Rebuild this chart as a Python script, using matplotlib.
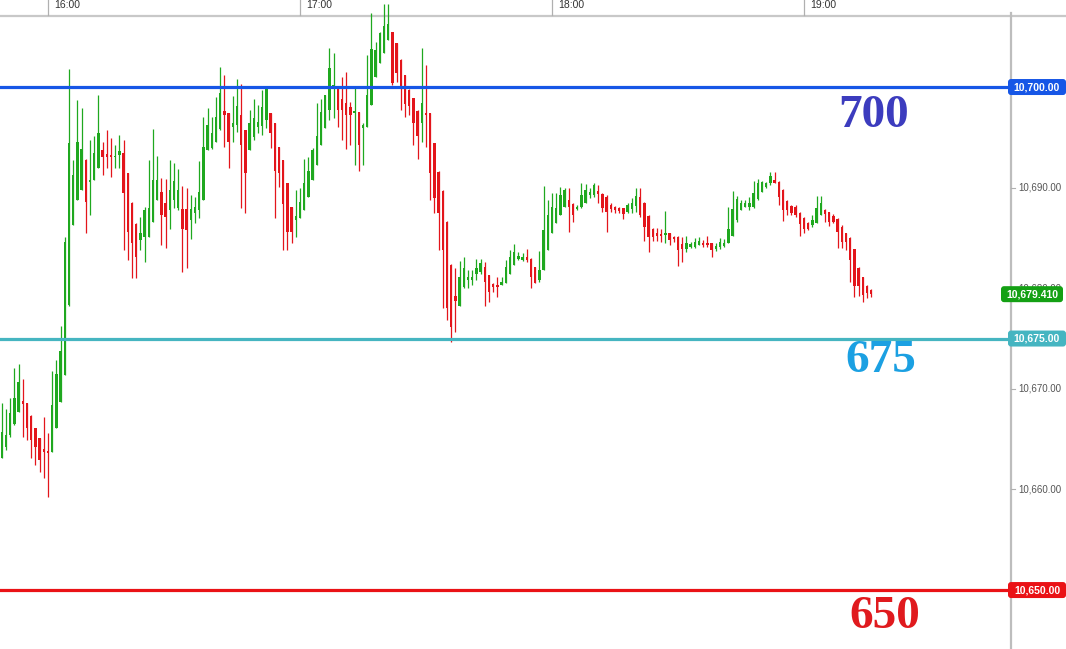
import numpy as np
import matplotlib
matplotlib.use("Agg")
import matplotlib.pyplot as plt
from matplotlib.lines import Line2D
from matplotlib.patches import FancyBboxPatch
from matplotlib.transforms import IdentityTransform

W, H = 1066, 649

# one-minute bars, first bar at 15:49 (minutes relative to 16:00)
FIRST_BAR = -11

OPEN = [
    10663.1, 10664.2, 10665.4, 10666.5, 10667.7, 10668.8, 10668.6, 10667.3, 10666.1, 10665.1,
    10664.0, 10663.8, 10663.7, 10666.1, 10668.7, 10671.4, 10678.3, 10686.3, 10688.8, 10689.8,
    10692.7, 10690.6, 10690.8, 10692.0, 10693.7, 10693.3, 10693.2, 10693.0, 10693.2, 10693.4,
    10691.5, 10688.5, 10686.4, 10684.8, 10685.1, 10685.1, 10686.6, 10688.8, 10689.6, 10688.5,
    10687.8, 10688.8, 10688.0, 10687.9, 10687.9, 10686.8, 10687.5, 10687.8, 10688.8, 10693.7,
    10693.9, 10694.5, 10695.8, 10697.6, 10697.4, 10696.0, 10696.2, 10697.2, 10695.7, 10693.7,
    10695.0, 10696.0, 10696.1, 10696.7, 10697.4, 10696.4, 10694.0, 10692.7, 10690.5, 10688.1,
    10686.8, 10687.0, 10687.8, 10689.1, 10690.8, 10692.2, 10694.2, 10695.9, 10697.7, 10699.8,
    10699.9, 10698.8, 10698.4, 10698.0, 10697.4, 10697.5, 10695.9, 10696.0, 10698.2, 10701.0,
    10702.4, 10703.4, 10704.7, 10705.5, 10704.4, 10702.7, 10701.2, 10699.7, 10698.9, 10697.6,
    10696.4, 10697.4, 10697.4, 10694.4, 10691.6, 10689.7, 10686.6, 10682.3, 10679.2, 10678.2,
    10680.1, 10680.8, 10680.8, 10681.4, 10681.6, 10682.1, 10681.3, 10680.4, 10680.3, 10680.3,
    10680.5, 10681.4, 10682.3, 10682.9, 10682.8, 10683.1, 10682.9, 10682.1, 10680.8, 10681.8,
    10683.8, 10685.5, 10686.5, 10687.3, 10688.1, 10688.8, 10688.4, 10687.9, 10688.1, 10688.5,
    10689.3, 10689.3, 10689.7, 10689.4, 10689.1, 10688.3, 10688.1, 10688.0, 10688.0, 10687.6,
    10687.9, 10688.2, 10689.1, 10688.5, 10687.2, 10685.9, 10685.5, 10685.4, 10685.3, 10685.5,
    10685.1, 10685.1, 10684.4, 10683.9, 10684.1, 10684.1, 10684.3, 10684.5, 10684.5, 10684.5,
    10683.9, 10684.1, 10684.2, 10684.5, 10685.2, 10686.8, 10687.8, 10688.1, 10688.1, 10688.1,
    10688.9, 10689.6, 10690.1, 10690.5, 10690.8, 10690.6, 10689.8, 10688.7, 10688.2, 10688.1,
    10687.5, 10687.0, 10686.5, 10686.3, 10686.5, 10687.3, 10687.8, 10687.6, 10687.2, 10686.9,
    10686.1, 10685.5, 10685.0, 10683.9, 10682.0, 10681.1, 10680.2, 10679.8,
]
HIGH = [
    10668.6, 10668.0, 10669.1, 10672.1, 10672.5, 10671.0, 10668.6, 10667.4, 10666.1, 10665.1,
    10667.2, 10665.6, 10671.8, 10672.9, 10676.2, 10685.1, 10701.8, 10692.7, 10698.7, 10697.9,
    10692.8, 10694.7, 10695.1, 10699.2, 10694.5, 10695.7, 10694.9, 10694.2, 10695.2, 10694.7,
    10691.5, 10688.6, 10686.5, 10687.1, 10688.1, 10692.7, 10695.8, 10693.1, 10691.0, 10690.9,
    10692.7, 10692.4, 10691.9, 10690.2, 10690.0, 10689.3, 10689.1, 10692.6, 10697.0, 10697.9,
    10697.0, 10699.0, 10702.0, 10701.2, 10697.4, 10699.1, 10700.8, 10700.3, 10695.7, 10697.7,
    10698.8, 10698.2, 10699.7, 10699.9, 10697.4, 10696.4, 10694.0, 10692.7, 10690.5, 10688.1,
    10689.8, 10690.0, 10692.8, 10693.0, 10693.9, 10698.4, 10698.8, 10699.2, 10703.9, 10703.4,
    10700.1, 10701.0, 10701.5, 10698.5, 10700.1, 10697.5, 10696.4, 10703.2, 10707.4, 10704.5,
    10705.5, 10708.3, 10708.3, 10705.5, 10704.4, 10702.8, 10701.2, 10699.8, 10698.9, 10697.7,
    10703.9, 10702.2, 10697.4, 10694.4, 10691.7, 10689.8, 10686.7, 10682.4, 10682.0, 10682.7,
    10683.1, 10681.8, 10681.8, 10682.9, 10682.9, 10682.6, 10681.3, 10680.5, 10681.1, 10681.1,
    10682.8, 10683.8, 10684.4, 10683.6, 10683.5, 10683.9, 10683.0, 10682.1, 10683.7, 10690.2,
    10688.8, 10689.5, 10689.5, 10690.1, 10690.0, 10690.0, 10688.5, 10688.3, 10690.5, 10690.4,
    10690.0, 10690.5, 10690.3, 10689.5, 10689.3, 10688.5, 10688.2, 10688.1, 10688.0, 10688.5,
    10689.0, 10690.0, 10690.0, 10688.6, 10687.3, 10686.0, 10686.0, 10685.9, 10687.7, 10685.5,
    10685.2, 10685.2, 10685.1, 10685.2, 10684.6, 10685.0, 10685.1, 10684.8, 10685.2, 10684.5,
    10684.5, 10685.0, 10684.9, 10688.1, 10689.7, 10689.2, 10688.8, 10688.8, 10689.1, 10690.7,
    10690.9, 10690.7, 10690.6, 10691.6, 10691.6, 10690.7, 10689.9, 10688.8, 10688.3, 10688.3,
    10687.6, 10687.1, 10686.6, 10687.3, 10689.2, 10689.2, 10687.9, 10687.6, 10687.4, 10687.0,
    10686.3, 10685.5, 10685.1, 10683.9, 10682.1, 10681.1, 10680.3, 10679.9,
]
LOW = [
    10663.1, 10663.9, 10665.2, 10666.4, 10667.7, 10665.2, 10664.9, 10663.1, 10662.4, 10661.7,
    10661.1, 10659.2, 10663.7, 10666.1, 10668.7, 10671.4, 10678.2, 10686.3, 10688.8, 10689.8,
    10685.5, 10687.3, 10690.8, 10692.0, 10691.3, 10692.0, 10691.1, 10692.0, 10692.0, 10683.8,
    10682.8, 10681.0, 10681.0, 10683.8, 10682.6, 10685.1, 10686.6, 10688.8, 10684.3, 10684.0,
    10685.9, 10688.0, 10687.8, 10681.6, 10682.0, 10684.9, 10686.5, 10687.0, 10688.8, 10693.7,
    10693.8, 10694.5, 10695.7, 10694.0, 10692.0, 10694.5, 10695.5, 10688.0, 10687.5, 10693.7,
    10694.7, 10695.4, 10695.2, 10695.9, 10693.9, 10687.0, 10690.1, 10683.8, 10683.8, 10684.5,
    10685.1, 10687.0, 10687.8, 10689.1, 10690.8, 10692.2, 10694.2, 10695.9, 10696.7, 10696.9,
    10696.0, 10694.7, 10693.8, 10694.2, 10692.2, 10691.7, 10692.2, 10696.0, 10698.2, 10701.0,
    10702.4, 10703.4, 10704.7, 10700.2, 10700.5, 10697.7, 10697.0, 10697.2, 10694.2, 10692.8,
    10694.5, 10694.0, 10688.8, 10687.5, 10683.8, 10678.0, 10676.8, 10674.7, 10675.6, 10678.2,
    10680.0, 10680.0, 10680.3, 10680.8, 10681.4, 10678.2, 10678.6, 10679.6, 10679.1, 10680.3,
    10680.5, 10681.4, 10682.3, 10682.8, 10682.7, 10682.6, 10680.0, 10680.5, 10680.6, 10681.8,
    10683.8, 10685.5, 10686.5, 10687.3, 10688.1, 10685.6, 10686.6, 10687.8, 10688.0, 10688.5,
    10689.0, 10689.1, 10688.5, 10687.6, 10685.6, 10687.6, 10687.5, 10687.5, 10686.9, 10687.5,
    10687.5, 10687.6, 10687.1, 10684.7, 10683.6, 10684.7, 10684.7, 10684.6, 10684.5, 10684.3,
    10684.6, 10682.2, 10682.6, 10683.6, 10684.0, 10684.0, 10684.3, 10684.1, 10684.1, 10683.1,
    10683.7, 10683.9, 10684.1, 10684.5, 10685.2, 10686.6, 10687.8, 10688.1, 10687.8, 10688.0,
    10688.8, 10689.6, 10690.0, 10690.3, 10690.5, 10688.3, 10686.7, 10687.3, 10687.3, 10687.1,
    10685.2, 10685.5, 10685.8, 10686.1, 10686.5, 10687.3, 10686.6, 10686.2, 10686.5, 10684.0,
    10684.0, 10683.8, 10680.6, 10679.1, 10679.2, 10678.6, 10679.0, 10679.1,
]
CLOSE = [
    10665.7, 10665.4, 10667.6, 10669.1, 10670.7, 10668.5, 10666.1, 10664.9, 10664.2, 10662.9,
    10663.7, 10663.6, 10668.4, 10671.5, 10673.8, 10684.6, 10694.4, 10691.3, 10694.5, 10693.8,
    10688.6, 10690.8, 10693.4, 10695.4, 10693.0, 10693.0, 10693.0, 10693.1, 10693.6, 10689.5,
    10685.6, 10684.5, 10683.1, 10685.5, 10687.8, 10688.0, 10690.8, 10690.8, 10687.3, 10687.1,
    10689.8, 10690.7, 10689.8, 10685.9, 10685.8, 10687.9, 10688.1, 10689.6, 10694.0, 10696.2,
    10695.4, 10697.0, 10699.4, 10697.2, 10694.5, 10696.4, 10698.1, 10694.2, 10691.5, 10696.4,
    10696.9, 10696.5, 10698.0, 10699.8, 10695.4, 10691.7, 10691.5, 10688.4, 10685.6, 10685.6,
    10687.2, 10688.6, 10690.5, 10691.7, 10693.7, 10695.1, 10697.5, 10699.2, 10701.9, 10700.2,
    10697.7, 10697.7, 10697.2, 10697.2, 10697.5, 10694.2, 10696.2, 10699.2, 10703.8, 10703.7,
    10705.4, 10706.1, 10706.3, 10700.4, 10701.4, 10700.0, 10698.3, 10698.1, 10696.4, 10695.1,
    10698.4, 10697.2, 10691.5, 10689.0, 10687.5, 10683.8, 10678.0, 10676.1, 10678.7, 10681.1,
    10682.0, 10681.1, 10681.1, 10682.0, 10682.5, 10680.6, 10679.6, 10680.1, 10680.1, 10680.6,
    10682.1, 10683.1, 10683.6, 10683.2, 10683.1, 10682.8, 10681.1, 10680.5, 10681.8, 10685.8,
    10687.3, 10688.1, 10688.0, 10689.3, 10689.8, 10688.1, 10687.3, 10688.0, 10689.3, 10689.8,
    10689.6, 10690.3, 10689.4, 10688.0, 10687.6, 10687.9, 10687.8, 10687.7, 10687.4, 10688.3,
    10688.5, 10689.2, 10687.3, 10686.1, 10685.1, 10685.1, 10685.2, 10685.2, 10685.5, 10684.8,
    10684.9, 10683.8, 10683.9, 10684.5, 10684.4, 10684.6, 10684.7, 10684.3, 10684.3, 10683.8,
    10684.2, 10684.6, 10684.5, 10685.9, 10687.9, 10688.9, 10688.5, 10688.5, 10688.5, 10689.5,
    10690.5, 10690.6, 10690.5, 10691.2, 10690.5, 10689.1, 10687.8, 10687.8, 10687.5, 10687.3,
    10686.4, 10685.9, 10685.9, 10686.8, 10688.0, 10688.5, 10687.4, 10686.6, 10686.6, 10685.6,
    10684.6, 10684.6, 10682.8, 10680.2, 10680.2, 10679.3, 10679.5, 10679.41,
]

LEVELS = [10700, 10675, 10650]
LEVEL_LABELS = ["10,700.00", "10,675.00", "10,650.00"]
LEVEL_COLORS = ["#1656e6", "#45b5c1", "#ea1216"]
BIG_TEXT = ["700", "675", "650"]
BIG_COLORS = ["#3c3cbe", "#1ba0e2", "#e01a1e"]
PRICE_TICKS = [10690, 10680, 10670, 10660]
PRICE_TICK_LABELS = ["10,690.00", "10,680.00", "10,670.00", "10,660.00"]
TIME_TICKS = [0, 60, 120, 180]
TIME_LABELS = ["16:00", "17:00", "18:00", "19:00"]
LAST_PRICE = 10679.41

GREEN = "#1fa81f"
RED = "#e3151b"

fig = plt.figure(figsize=(W / 100, H / 100), dpi=100)
fig.patch.set_facecolor("white")
ax = fig.add_axes([0, 0, 1011 / W, 1])
ax.set_facecolor("none")
for s in ax.spines.values():
    s.set_visible(False)
ax.set_xticks([])
ax.set_yticks([])
ax.set_xlim(-11.43, 229.3)
ax.set_ylim(10644.14, 10708.65)

o = np.array(OPEN)
h = np.array(HIGH)
l = np.array(LOW)
c = np.array(CLOSE)
x = np.arange(len(o)) + FIRST_BAR
colors = np.where(c >= o, GREEN, RED)

# candles
ax.vlines(x, l, h, colors=colors, linewidth=0.9, zorder=3)
body = np.maximum(np.abs(c - o), 0.18)
ax.bar(x, body, bottom=np.minimum(o, c), width=0.55, color=colors,
       linewidth=0, zorder=3)

# support / resistance lines
for lev, col in zip(LEVELS, LEVEL_COLORS):
    ax.axhline(lev, color=col, linewidth=2.3, zorder=4)


def y_px(price):
    return ax.transData.transform((0, price))[1]


# frame lines: top time band separator and right price axis
fig.add_artist(Line2D([0, 1], [1 - 15.5 / H] * 2, color="#c8c8c8", lw=1.6, zorder=-1))
fig.add_artist(Line2D([1011 / W] * 2, [0, 1 - 13 / H], color="#bdbdbd", lw=1.6, zorder=1))

# time axis at the top
for t, lab in zip(TIME_TICKS, TIME_LABELS):
    xp = ax.transData.transform((t, 0))[0]
    fig.add_artist(Line2D([xp / W] * 2, [1, 1 - 15 / H], color="#b0b0b0", lw=0.9, zorder=1))
    fig.text((xp + 6) / W, 1 - 4.5 / H, lab, fontsize=7.5, color="#333333",
             family="Liberation Sans", ha="left", va="center")

# price tick labels on the right
for p, lab in zip(PRICE_TICKS, PRICE_TICK_LABELS):
    yp = y_px(p)
    fig.add_artist(Line2D([1011 / W, 1015 / W], [yp / H] * 2, color="#b0b0b0", lw=0.8, zorder=1))
    fig.text(1018 / W, yp / H, lab, fontsize=7, color="#555555",
             family="Liberation Sans", ha="left", va="center", zorder=2)


def price_box(xl, xr, price, text, color):
    yc = y_px(price)
    box = FancyBboxPatch((xl, yc - 8), xr - xl, 16,
                         boxstyle="round,pad=0,rounding_size=3",
                         transform=IdentityTransform(), facecolor=color,
                         edgecolor="none", zorder=5)
    fig.add_artist(box)
    fig.text((xl + xr) / 2 / W, yc / H, text, fontsize=7.5, color="white",
             fontweight="bold", family="Liberation Sans",
             ha="center", va="center", zorder=6)


for lev, lab, col in zip(LEVELS, LEVEL_LABELS, LEVEL_COLORS):
    price_box(1008, 1066, lev, lab, col)
price_box(1001, 1063, LAST_PRICE, f"{LAST_PRICE:,.3f}", "#14a014")

# big level annotations
big_pos = [(838, 127), (845, 372), (849, 628)]
for (xp, base), txt, col in zip(big_pos, BIG_TEXT, BIG_COLORS):
    fig.text(xp / W, 1 - base / H, txt, fontsize=34, color=col,
             family="Liberation Serif", fontweight="bold",
             ha="left", va="baseline", zorder=6)

fig.savefig("out.png", dpi=100, facecolor="white")
